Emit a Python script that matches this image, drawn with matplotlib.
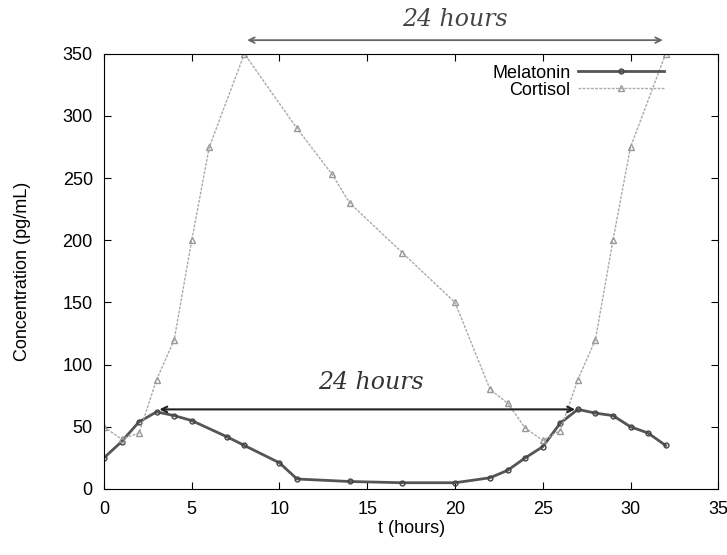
import matplotlib
matplotlib.use("Agg")
import matplotlib.pyplot as plt

plt.rcParams['font.family'] = ['Liberation Sans', 'DejaVu Sans']

# melatonin readings (hours, pg/mL)
mel_t = [0, 1, 2, 3, 4, 5, 7, 8, 10, 11, 14, 17, 20, 22, 23, 24, 25, 26, 27, 28, 29, 30, 31, 32]
mel_c = [25, 38, 54, 62, 59, 55, 42, 35, 21, 8, 6, 5, 5, 9, 15, 25, 34, 53, 64, 61, 59, 50, 45, 35]

# cortisol readings
cor_t = [0, 1, 2, 3, 4, 5, 6, 8, 11, 13, 14, 17, 20, 22, 23, 24, 25, 26, 27, 28, 29, 30, 32]
cor_c = [50, 40, 45, 88, 120, 200, 275, 350, 290, 253, 230, 190, 150, 80, 69, 49, 39, 47, 88, 120, 200, 275, 350]

fig = plt.figure(figsize=(7.27, 5.55), dpi=100)
ax = fig.add_axes([0.143, 0.119, 0.845, 0.784])

ax.plot(mel_t, mel_c, color="#555555", lw=2, marker="o", ms=3.5,
        mfc="none", mec="#444444", label="Melatonin")
ax.plot(cor_t, cor_c, color="#aaaaaa", lw=1, ls=(0, (2, 1)), marker="^", ms=4,
        mfc="none", mec="#999999", label="Cortisol")

ax.set_xlim(0, 35)
ax.set_ylim(0, 350)
ax.set_xticks(range(0, 36, 5))
ax.set_yticks(range(0, 351, 50))
ax.tick_params(direction="in", top=True, right=True, labelsize=13, length=5)
ax.tick_params(axis="x", pad=9)
ax.tick_params(axis="y", pad=8)
ax.set_xlabel("t (hours)", fontsize=13, labelpad=1)
ax.set_ylabel("Concentration (pg/mL)", fontsize=13, labelpad=23)

ax.legend(loc="upper right", bbox_to_anchor=(0.93, 1.0), frameon=False,
          markerfirst=False, fontsize=13, handlelength=4.8,
          borderaxespad=0.2, labelspacing=0.0, handletextpad=0.4)

# hand-drawn style "24 hours" arrows
ax.annotate("", xy=(3, 64), xytext=(27, 64),
            arrowprops=dict(arrowstyle="<->", color="#222222", lw=1.5))
ax.text(12.2, 80, "24 hours", fontsize=17, style="italic", family="DejaVu Serif",
        color="#333333")
ax.annotate("", xy=(8, 361), xytext=(32, 361),
            arrowprops=dict(arrowstyle="<->", color="#666666", lw=1.3),
            annotation_clip=False)
ax.text(17, 372, "24 hours", fontsize=17, style="italic", family="DejaVu Serif",
        color="#444444", clip_on=False)

fig.savefig("out.png", dpi=100)
